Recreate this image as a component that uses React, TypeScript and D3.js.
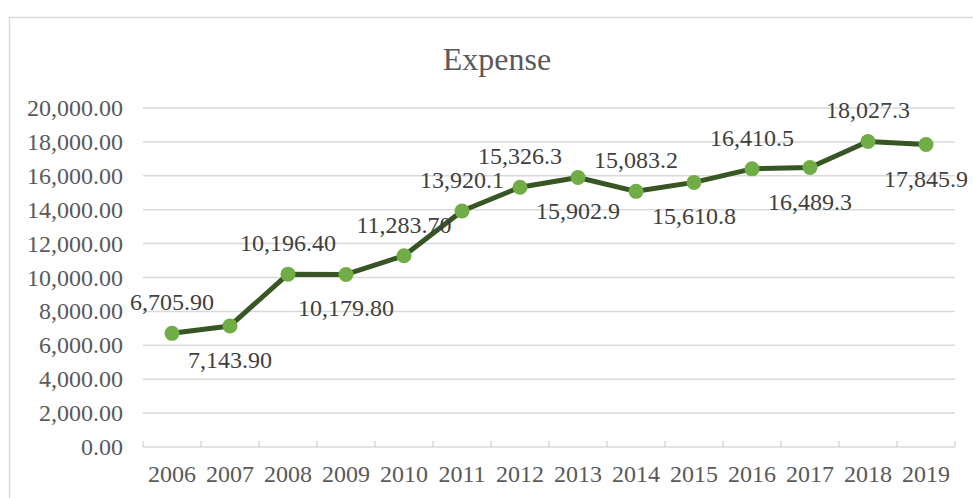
import React from "react";
import * as d3 from "d3";

const years = ["2006","2007","2008","2009","2010","2011","2012","2013","2014","2015","2016","2017","2018","2019"];
const expense = [6705.9,7143.9,10196.4,10179.8,11283.7,13920.1,15326.3,15902.9,15083.2,15610.8,16410.5,16489.3,18027.3,17845.9];
const dataLabels = ["6,705.90","7,143.90","10,196.40","10,179.80","11,283.70","13,920.1","15,326.3","15,902.9","15,083.2","15,610.8","16,410.5","16,489.3","18,027.3","17,845.9"];
const labelPos = ["above","below","above","below","above","above","above","below","above","below","above","below","above","below"];
const yTicks = [0,2000,4000,6000,8000,10000,12000,14000,16000,18000,20000];
const title = "Expense";

const W = 973, H = 498;
const left = 143, right = 955, top = 108, bottom = 447;
const font = "'Liberation Serif', 'Times New Roman', serif";

export default function App() {
  const x = d3.scaleBand().domain(years).range([left, right]).padding(0);
  const y = d3.scaleLinear().domain([0, 20000]).range([bottom, top]);
  const cx = (d: string) => (x(d) as number) + x.bandwidth() / 2;
  const line = d3.line<number>().x((_, i) => cx(years[i])).y((v) => y(v));
  const fmt = d3.format(",.2f");
  const tickXs = years.map((yr) => x(yr) as number).concat([right]);

  return (
    <svg width={W} height={H} style={{ position: "absolute", left: 0, top: 0, background: "#fff" }}>
      <rect x={9.5} y={17.5} width={1000} height={600} fill="#fff" stroke="#d9d9d9" strokeWidth={1.5} />
      <text x={497} y={70} textAnchor="middle" fontFamily={font} fontSize={32} fill="#595959">{title}</text>
      {yTicks.slice(1).map((t) => (
        <line key={t} x1={left} x2={right} y1={y(t)} y2={y(t)} stroke="#d9d9d9" strokeWidth={1.5} />
      ))}
      <line x1={left} x2={right} y1={bottom} y2={bottom} stroke="#d9d9d9" strokeWidth={1.5} />
      {tickXs.map((tx, i) => (
        <line key={i} x1={tx} x2={tx} y1={bottom} y2={bottom - 6} stroke="#d9d9d9" strokeWidth={1.5} />
      ))}
      {yTicks.map((t) => (
        <text key={t} x={123} y={y(t) + 8} textAnchor="end" fontFamily={font} fontSize={24} fill="#595959">{fmt(t)}</text>
      ))}
      {years.map((yr) => (
        <text key={yr} x={cx(yr)} y={482} textAnchor="middle" fontFamily={font} fontSize={24} fill="#595959">{yr}</text>
      ))}
      <path d={line(expense) as string} fill="none" stroke="#375623" strokeWidth={5} strokeLinejoin="round" />
      {expense.map((v, i) => (
        <circle key={i} cx={cx(years[i])} cy={y(v)} r={7.5} fill="#70AD47" />
      ))}
      {expense.map((v, i) => (
        <text key={i} x={cx(years[i])} y={y(v) + (labelPos[i] === "above" ? -23 : 42)} textAnchor="middle" fontFamily={font} fontSize={24} fill="#404040">{dataLabels[i]}</text>
      ))}
    </svg>
  );
}
